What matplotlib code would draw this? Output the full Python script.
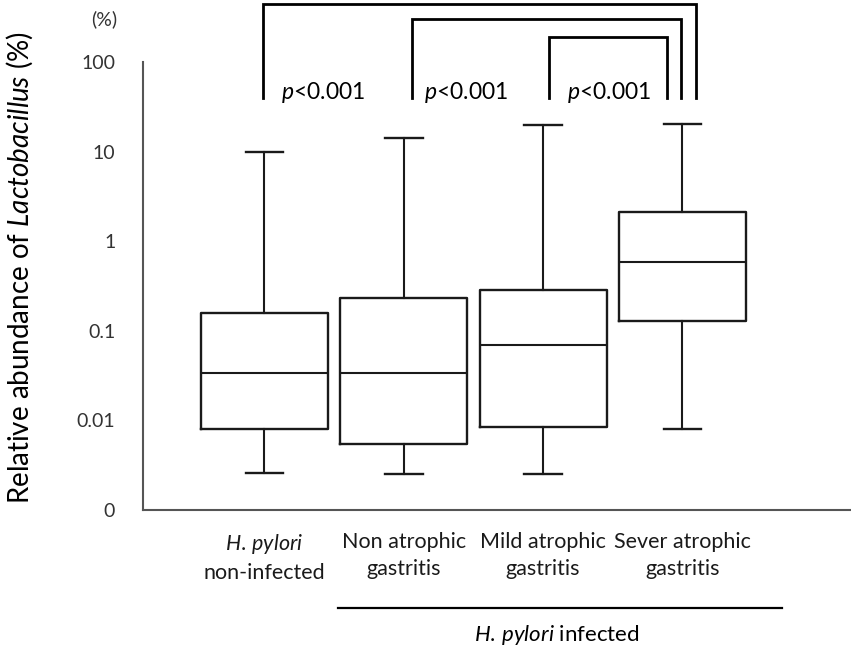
import matplotlib
matplotlib.use("Agg")
import matplotlib.pyplot as plt

plt.rcParams['font.family'] = ['Lato', 'DejaVu Sans']
plt.rcParams['mathtext.fontset'] = 'custom'
plt.rcParams['mathtext.rm'] = 'Lato'
plt.rcParams['mathtext.it'] = 'Lato:italic'

# data (percent)
groups = ["$\\mathit{H.\\,pylori}$\nnon-infected", "Non atrophic\ngastritis",
          "Mild atrophic\ngastritis", "Sever atrophic\ngastritis"]
whislo = [0.0026, 0.0025, 0.0025, 0.0080]
q1 = [0.0080, 0.0055, 0.0084, 0.129]
med = [0.034, 0.034, 0.070, 0.59]
q3 = [0.158, 0.232, 0.285, 2.12]
whishi = [9.9, 14.2, 19.8, 20.3]
yticks = [0.001, 0.01, 0.1, 1, 10, 100]
ytick_labels = ["0", "0.01", "0.1", "1", "10", "100"]
# comparisons: (left group, right group)
pairs = [(1, 4), (2, 4), (3, 4)]
p_labels = ["$\\mathit{p}$<0.001", "$\\mathit{p}$<0.001", "$\\mathit{p}$<0.001"]

fig = plt.figure(figsize=(8.51, 6.48), dpi=100)
ax = fig.add_axes([143/851, 138/648, 1 - 143/851, 448/648])

stats = []
for i in range(len(groups)):
    stats.append(dict(whislo=whislo[i], q1=q1[i], med=med[i], q3=q3[i], whishi=whishi[i], fliers=[]))

pos = [1, 2, 3, 4]
lc = '#1a1a1a'
ax.bxp(stats, positions=pos, widths=0.91, capwidths=0.27, showfliers=False,
       boxprops=dict(color=lc, linewidth=1.7),
       whiskerprops=dict(color=lc, linewidth=1.5),
       capprops=dict(color=lc, linewidth=1.7),
       medianprops=dict(color=lc, linewidth=1.5))

ax.set_yscale('log')
ax.set_ylim(0.001, 100)
ax.set_xlim(0.128, 5.21)
ax.set_yticks(yticks)
ax.set_yticklabels(ytick_labels, fontsize=14, color='#333333')
ax.yaxis.set_minor_locator(matplotlib.ticker.NullLocator())
ax.tick_params(axis='y', length=0, pad=20)
ax.set_xticks(pos)
ax.set_xticklabels(groups, fontsize=15.5, color='#1a1a1a', linespacing=1.45)
ax.tick_params(axis='x', length=0, pad=16)

for s in ['top', 'right']:
    ax.spines[s].set_visible(False)
for s in ['left', 'bottom']:
    ax.spines[s].set_color('#555555')
    ax.spines[s].set_linewidth(1.5)

# significance brackets
tr = ax.get_xaxis_transform()
tops = [1.129, 1.096, 1.056]
xs = [(0.99, 4.10), (2.06, 3.99), (3.04, 3.89)]
for (a, b), top in zip(xs, tops):
    ax.plot([a, a, b, b], [0.920, top, top, 0.920], color='black', lw=2.0,
            transform=tr, clip_on=False, solid_joinstyle='miter')
for x, lab in zip([1.42, 2.45, 3.47], p_labels):
    ax.text(x, 0.933, lab, transform=tr, ha='center', va='center', fontsize=16.5)

# group line under infected
ax.plot([1.53, 4.715], [-0.219, -0.219], color='black', lw=1.6, transform=tr, clip_on=False)
ax.text(3.10, -0.279, "$\\mathit{H.\\,pylori}$ infected", transform=tr, ha='center',
        va='center', fontsize=16)

fig.text(104/851, 1 - 19/648, "(%)", ha='center', va='center', fontsize=14, color='#333333')
fig.text(20/851, 1 - 268/648, "Relative abundance of $\\mathit{Lactobacillus}$ (%)",
         rotation=90, ha='center', va='center', fontsize=20)

fig.savefig("out.png", dpi=100)
